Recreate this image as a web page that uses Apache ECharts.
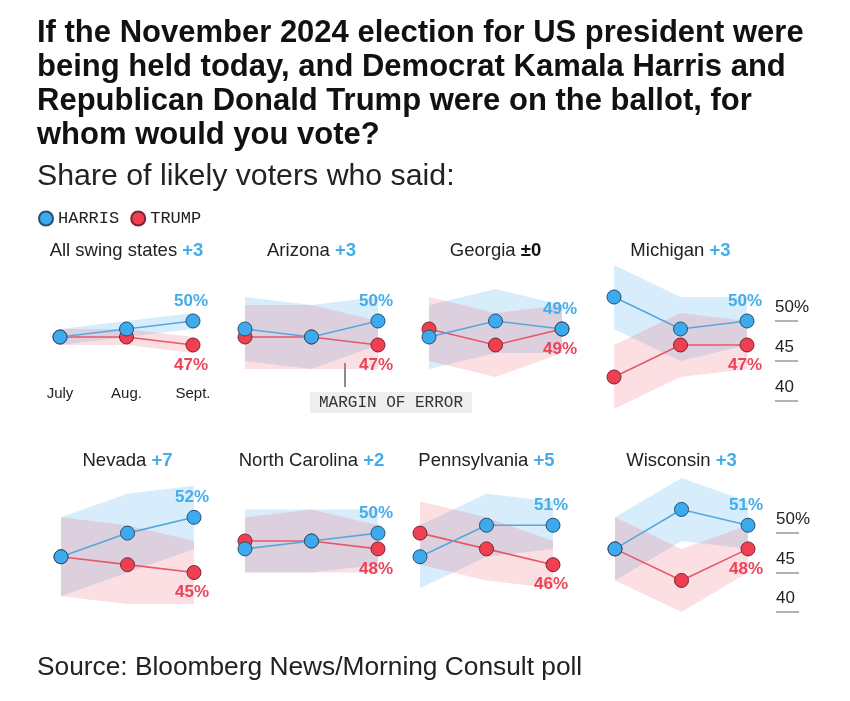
<!DOCTYPE html>
<html><head><meta charset="utf-8">
<script src="https://cdn.jsdelivr.net/npm/echarts@6/dist/echarts.min.js"></script>
<style>html,body{margin:0;padding:0;background:#fff}#c{width:850px;height:701px}</style>
</head><body><div id="c"></div>
<script>
// ---- data ----
const panels = ['All swing states','Arizona','Georgia','Michigan','Nevada','North Carolina','Pennsylvania','Wisconsin'];
const leads = ['+3','+3','±0','+3','+7','+2','+5','+3'];
const months = ['July','Aug.','Sept.'];
const harris = [[48,49,50],[49,48,50],[48,50,49],[53,49,50],[47,50,52],[48,49,50],[47,51,51],[48,53,51]];
const trump  = [[48,48,47],[48,48,47],[49,47,49],[43,47,47],[47,46,45],[49,49,48],[50,48,46],[48,44,48]];
const harrisLow  = [[47,48,49],[45,44,47],[44,46,46],[49,45,47],[42,45,48],[45,45,46],[43,47,48],[44,49,48]];
const harrisHigh = [[49,50,51],[53,52,53],[52,54,52],[57,53,53],[52,55,56],[53,53,53],[51,55,54],[52,57,54]];
const trumpLow   = [[47,47,46],[44,44,44],[45,43,46],[39,43,44],[42,41,41],[45,45,45],[46,44,43],[44,40,45]];
const trumpHigh  = [[49,49,48],[52,52,50],[53,51,52],[47,51,50],[52,51,49],[52,53,51],[54,52,49],[52,48,51]];
const yTicks = [40,45,50];

// ---- style ----
const SANS = '"Liberation Sans", Arial, Helvetica, sans-serif';
const MONO = '"Liberation Mono", "DejaVu Sans Mono", monospace';
const BLUE = '#3eaaee', RED = '#ef3f50', BLUE_TXT = '#45acea', RED_TXT = '#ea4556';
const gridLefts = [60,245,429,614,61,245,420,615];
const PW = 133;

const chart = echarts.init(document.getElementById('c'));
const grids = [], xAxes = [], yAxes = [], series = [], graphics = [];

panels.forEach((name, i) => {
  const row = i < 4 ? 0 : 1;
  const top = row === 0 ? 257 : 470;
  const height = row === 0 ? 144 : 142;
  grids.push({left: gridLefts[i], top, width: PW, height});
  xAxes.push({type: 'category', gridIndex: i, data: months, boundaryGap: false,
    axisLine: {show: false}, axisTick: {show: false}, splitLine: {show: false},
    axisLabel: {show: i === 0, interval: 0, margin: -15, color: '#222', fontSize: 15, fontFamily: SANS}});
  yAxes.push({type: 'value', gridIndex: i, min: 40, max: 58, show: false});

  const common = {xAxisIndex: i, yAxisIndex: i, clip: false, silent: true, animation: false};
  series.push(Object.assign({type: 'line', stack: 'h' + i, data: harrisLow[i], symbol: 'none', lineStyle: {opacity: 0}, z: 1}, common));
  series.push(Object.assign({type: 'line', stack: 'h' + i, data: harrisHigh[i].map((v, k) => v - harrisLow[i][k]), symbol: 'none',
    lineStyle: {opacity: 0}, areaStyle: {color: 'rgba(95,185,240,0.25)', opacity: 1}, z: 1}, common));
  series.push(Object.assign({type: 'line', stack: 't' + i, data: trumpLow[i], symbol: 'none', lineStyle: {opacity: 0}, z: 1}, common));
  series.push(Object.assign({type: 'line', stack: 't' + i, data: trumpHigh[i].map((v, k) => v - trumpLow[i][k]), symbol: 'none',
    lineStyle: {opacity: 0}, areaStyle: {color: 'rgba(240,95,115,0.2)', opacity: 1}, z: 1}, common));

  const mk = (arr, pos, color) => arr.map((v, k) => k === arr.length - 1 ? {value: v, label: {show: true, position: pos, distance: 4, offset: [-2, 0],
    formatter: '{c}%', color, fontSize: 17, fontWeight: 'bold', fontFamily: SANS}} : v);
  series.push(Object.assign({type: 'line', name: 'TRUMP', data: mk(trump[i], 'bottom', RED_TXT), symbol: 'circle', symbolSize: 14,
    itemStyle: {color: RED, borderColor: '#7a2530', borderWidth: 1}, lineStyle: {color: '#e65868', width: 1.6}, z: 3}, common));
  series.push(Object.assign({type: 'line', name: 'HARRIS', data: mk(harris[i], 'top', BLUE_TXT), symbol: 'circle', symbolSize: 14,
    itemStyle: {color: BLUE, borderColor: '#25506e', borderWidth: 1}, lineStyle: {color: '#55a8dc', width: 1.6}, z: 4}, common));

  const leadColor = leads[i].startsWith('+') ? BLUE_TXT : '#111';
  graphics.push({type: 'text', x: gridLefts[i] + PW / 2, y: row === 0 ? 251 : 461, silent: true,
    style: {text: '{n|' + name + ' }{l|' + leads[i] + '}', align: 'center', verticalAlign: 'middle',
      rich: {n: {fontSize: 18.5, fontFamily: SANS, fill: '#222'}, l: {fontSize: 18.5, fontFamily: SANS, fontWeight: 'bold', fill: leadColor}}}});
});

// right-side value axes
[3, 7].forEach(gi => {
  yAxes.push({type: 'value', gridIndex: gi, min: 40, max: 58, position: 'right', offset: 28,
    axisLine: {show: false}, splitLine: {show: false},
    axisTick: {show: true, customValues: yTicks, length: 23, inside: false, lineStyle: {color: '#999', width: 1.5}},
    axisLabel: {show: true, customValues: yTicks, margin: 0, verticalAlign: 'bottom', padding: [0, 0, 5, 0],
      formatter: v => v === 50 ? '50%' : String(v), color: '#222', fontSize: 17, fontFamily: SANS}});
});

// titles & annotations
graphics.push({type: 'text', x: 37, y: 16, silent: true,
  style: {text: 'If the November 2024 election for US president were\nbeing held today, and Democrat Kamala Harris and\nRepublican Donald Trump were on the ballot, for\nwhom would you vote?',
    fontSize: 31, fontWeight: 'bold', fontFamily: SANS, fill: '#111', lineHeight: 34, verticalAlign: 'top'}});
graphics.push({type: 'text', x: 37, y: 177, silent: true,
  style: {text: 'Share of likely voters who said:', fontSize: 30.3, fontFamily: SANS, fill: '#222', verticalAlign: 'middle'}});
graphics.push({type: 'text', x: 37, y: 668, silent: true,
  style: {text: 'Source: Bloomberg News/Morning Consult poll', fontSize: 26.3, fontFamily: SANS, fill: '#222', verticalAlign: 'middle'}});
graphics.push({type: 'line', silent: true, shape: {x1: 345, y1: 363, x2: 345, y2: 387}, style: {stroke: '#666', lineWidth: 1.5}});
graphics.push({type: 'rect', silent: true, shape: {x: 310, y: 392, width: 162, height: 21}, style: {fill: '#eeeeee'}});
graphics.push({type: 'text', x: 391, y: 403, silent: true,
  style: {text: 'MARGIN OF ERROR', fontSize: 16, fontFamily: MONO, fill: '#333', align: 'center', verticalAlign: 'middle'}});

chart.setOption({
  animation: false,
  backgroundColor: '#fff',
  legend: {data: ['HARRIS', 'TRUMP'], left: 38, top: 210, padding: 0, icon: 'circle', itemWidth: 14, itemHeight: 14, itemGap: 11,
    selectedMode: false, textStyle: {fontFamily: MONO, fontSize: 17, color: '#222'}},
  grid: grids, xAxis: xAxes, yAxis: yAxes, series, graphic: graphics
});
</script></body></html>
